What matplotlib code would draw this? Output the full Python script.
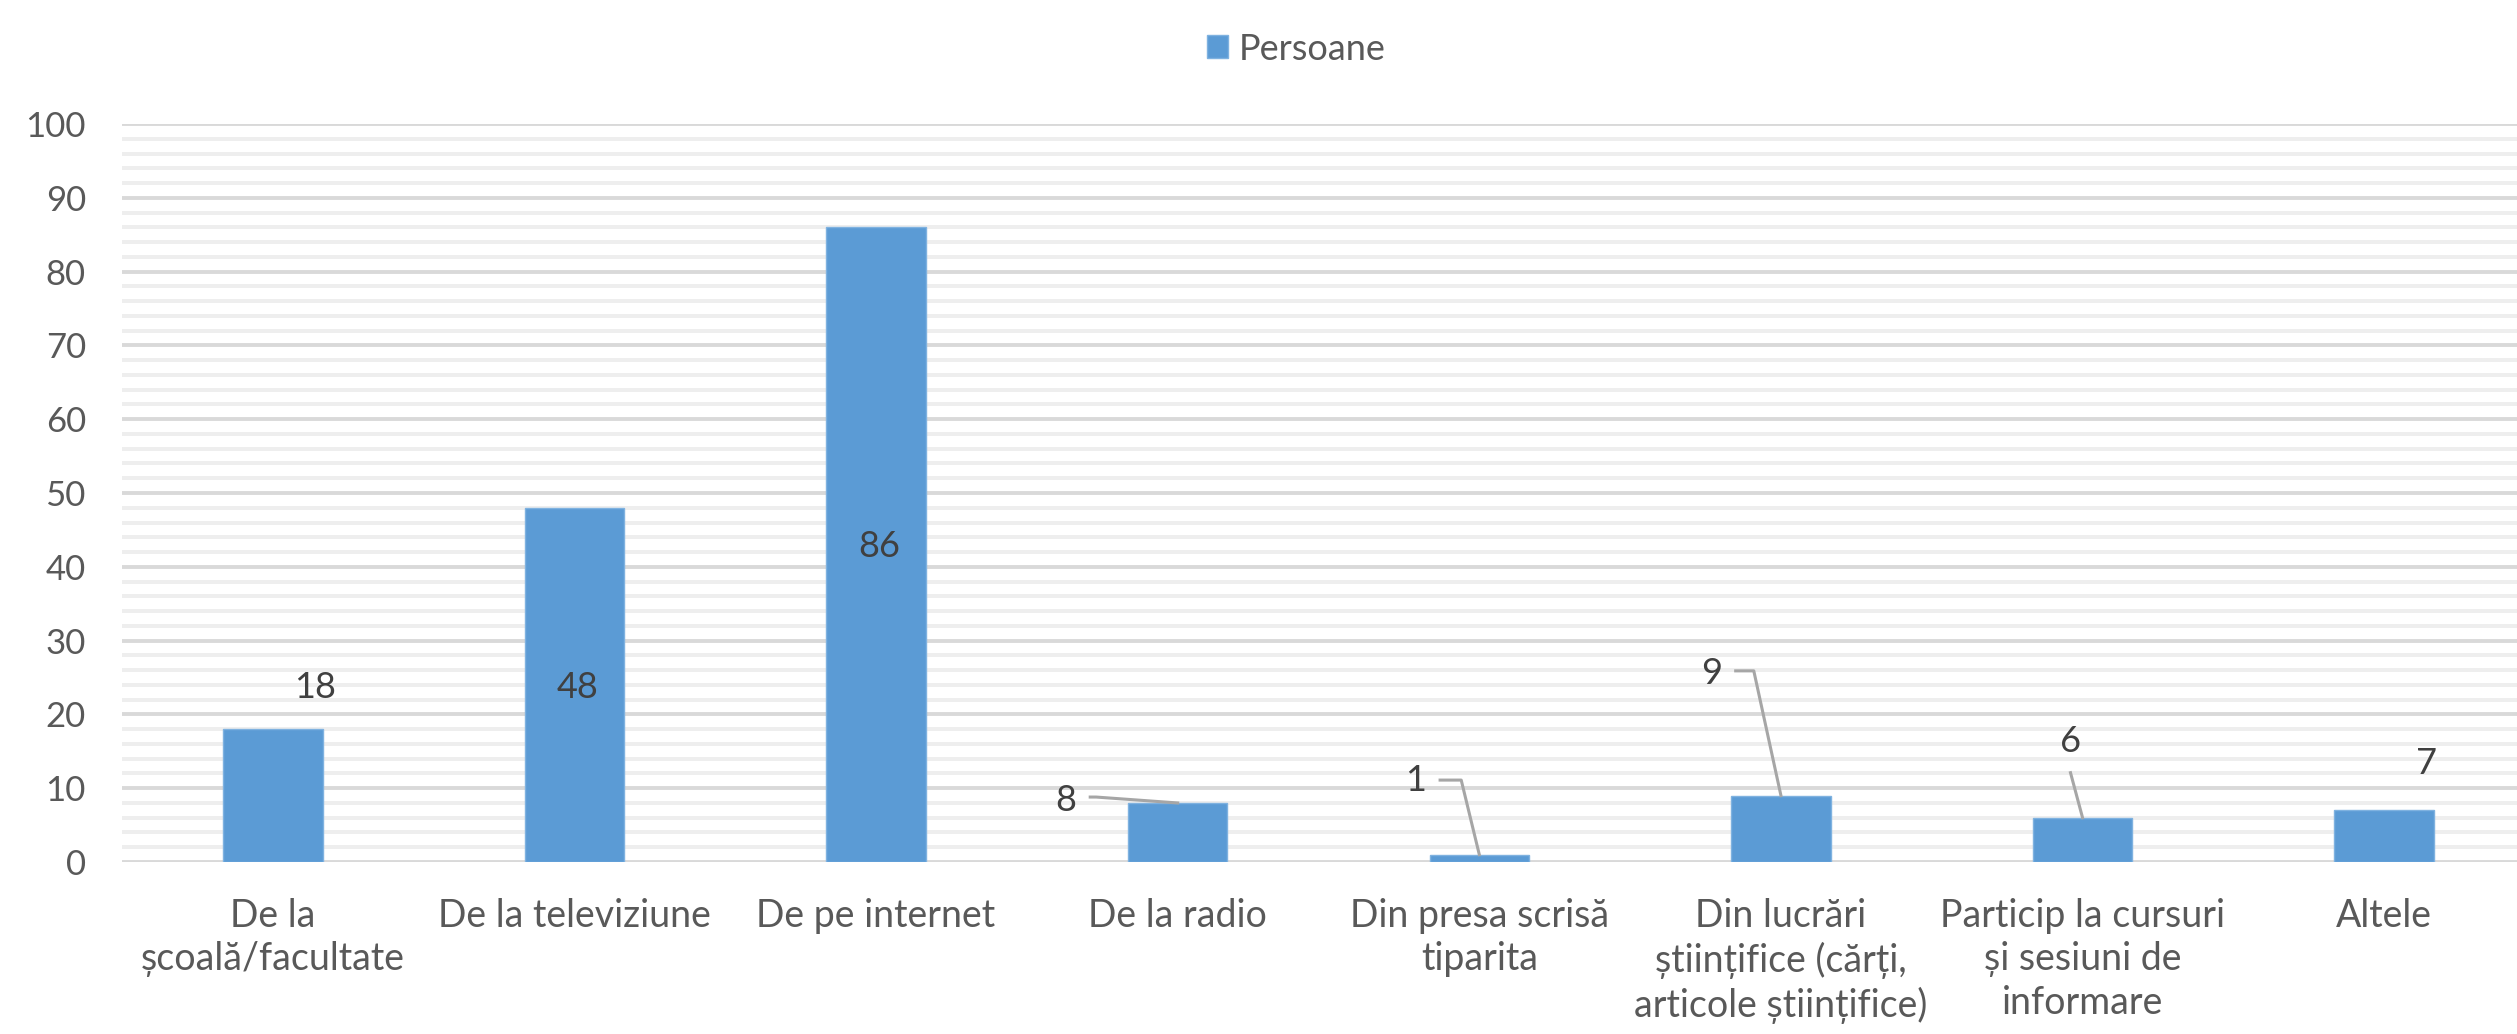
import numpy as np
import matplotlib
matplotlib.use('Agg')
import matplotlib.pyplot as plt
from matplotlib.ticker import MultipleLocator

plt.rcParams['font.family'] = ['Lato', 'DejaVu Sans']

categories = ['De la\nșcoală/facultate', 'De la televiziune', 'De pe internet',
              'De la radio', 'Din presa scrisă\ntiparita',
              'Din lucrări\nștiințifice (cărți,\narticole științifice)',
              'Particip la cursuri\nși sesiuni de\ninformare', 'Altele']
persoane = [18, 48, 86, 8, 1, 9, 6, 7]
series_name = 'Persoane'

# label placement (x offset from bar, y in data units) as in the excel chart
label_pos = [(0.14, 23.7), (0.01, 23.7), (0.01, 42.8), (-0.37, 8.4),
             (-0.21, 11.1), (-0.23, 25.5), (-0.04, 16.3), (0.14, 13.4)]
# leader lines: (start dx, corner dx, y) or None
leaders = [None, None, None, (-0.29, -0.27, 8.8), (-0.13, -0.06, 11.1),
           (-0.15, -0.09, 25.9), (-0.04, -0.04, 12.1), None]

bar_color = '#5b9bd5'
txt = '#595959'

fig = plt.figure(figsize=(25.17, 10.34), dpi=100)
ax = fig.add_axes([122/2517, 1-862/1034, (2535-122)/2517, (862-124)/1034])

x = np.arange(len(categories))
ax.bar(x, persoane, width=0.33, color=bar_color, edgecolor='#7fb2e0', linewidth=1, zorder=3, label=series_name)

ax.set_xlim(-0.5, 7.5)
ax.set_ylim(0, 100)
ax.yaxis.set_major_locator(MultipleLocator(10))
ax.yaxis.set_minor_locator(MultipleLocator(2))
ax.grid(which='major', axis='y', color='#d9d9d9', lw=2.8, zorder=0)
ax.grid(which='minor', axis='y', color='#eeeeee', lw=2.8, zorder=0)
ax.set_axisbelow(True)
for s in ax.spines.values():
    s.set_visible(False)

ax.set_xticks(x)
ax.set_xticklabels(categories, fontsize=27, color=txt, linespacing=1.25, va='top')
ax.tick_params(axis='x', length=0, pad=26)
ax.tick_params(axis='y', which='both', length=0, pad=26, labelsize=25, labelcolor=txt)

for i, v in enumerate(persoane):
    lx, ly = label_pos[i]
    ax.text(i + lx, ly, str(v), ha='center', va='center', fontsize=26, color='#404040', zorder=5)
    if leaders[i] is not None:
        s, c, y0 = leaders[i]
        ax.plot([i + s, i + c, i], [y0, y0, v], color='#a6a6a6', lw=2.2, zorder=4)

leg = fig.legend(loc='upper center', bbox_to_anchor=(0.515, 1.0), frameon=False, fontsize=26,
                 handlelength=0.6, handleheight=0.6, handletextpad=0.3, borderaxespad=0.5)
for t in leg.get_texts():
    t.set_color(txt)

fig.savefig('out.png', dpi=100)
